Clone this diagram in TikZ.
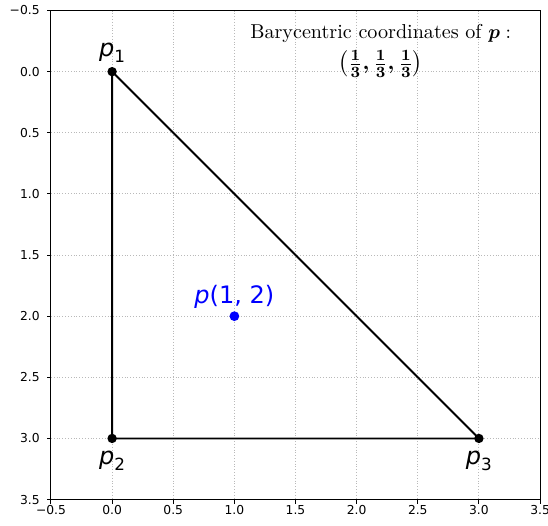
\documentclass[tikz,border=0pt]{standalone}
\usepackage{amsmath,amssymb}
\usepackage{fontspec}
\newfontfamily\dejavu{DejaVu Sans}
\usepackage{tikz}
\usetikzlibrary{positioning}

\newcommand{\vname}[1]{\textit{p}\raisebox{-0.45ex}{\fontsize{8.6}{9}\selectfont #1}}

\begin{document}
\begin{tikzpicture}[x=2.2cm, y=-2.2cm,
    gridline/.style={gray!55, densely dotted, line width=0.45pt},
    spine/.style={line width=0.5pt},
    ticklab/.style={font=\dejavu\fontsize{6.3}{7}\selectfont, inner sep=0pt},
    vert/.style={circle, fill=black, inner sep=0pt, minimum size=4.8pt},
    vlabel/.style={font=\dejavu\fontsize{12.3}{14}\selectfont, inner sep=0pt},
    note/.style={inner sep=0pt, font=\fontsize{10.3}{12}\selectfont},
    edge/.style={line width=0.95pt}]
    \useasboundingbox (-0.917,-0.586) rectangle (3.565,3.712);
    \foreach \v in {0,0.5,1,1.5,2,2.5,3} {
        \draw[gridline] (\v,-0.5) -- (\v,3.5);
        \draw[gridline] (-0.5,\v) -- (3.5,\v);
    }
    \draw[spine] (-0.5,-0.5) rectangle (3.5,3.5);
    \foreach \v/\t [count=\i] in {-0.5/−0.5, 0/0.0, 0.5/0.5, 1/1.0, 1.5/1.5, 2/2.0, 2.5/2.5, 3/3.0, 3.5/3.5} {
        \draw[spine] (\v,3.5) -- ++(0,0.035);
        \draw[spine] (-0.5,\v) -- ++(-0.035,0);
        \node[ticklab, anchor=north] (xt\i) at (\v,3.545) {\t};
        \node[ticklab, anchor=east] (yt\i) at (-0.59,\v) {\t};
    }

    \coordinate (p1) at (0,0);
    \coordinate (p2) at (0,3);
    \coordinate (p3) at (3,3);
    \draw[edge] (p1) -- (p2) -- (p3) -- cycle;
    \foreach \n in {1,2,3} { \node[vert] (dot\n) at (p\n) {}; }
    \node[vlabel] (lab1) at (0,-0.157) {\vname{1}};
    \node[vlabel] (lab2) at (0,3.181) {\vname{2}};
    \node[vlabel] (lab3) at (3,3.181) {\vname{3}};

    \node[circle, fill=blue, inner sep=0pt, minimum size=5pt] (p) at (1,2) {};
    \node[vlabel, text=blue] (plab) at (1,1.845) {\textit{p}(1, 2)};

    \node[note, anchor=base] (bary) at (2.196,-0.275) {Barycentric coordinates of $\boldsymbol{p}:$};
    \node[note, font=\fontsize{11.2}{13}\selectfont] (coords) at (2.196,-0.063)
        {$\boldsymbol{\left(\frac{1}{3}, \frac{1}{3}, \frac{1}{3}\right)}$};
\end{tikzpicture}
\end{document}
